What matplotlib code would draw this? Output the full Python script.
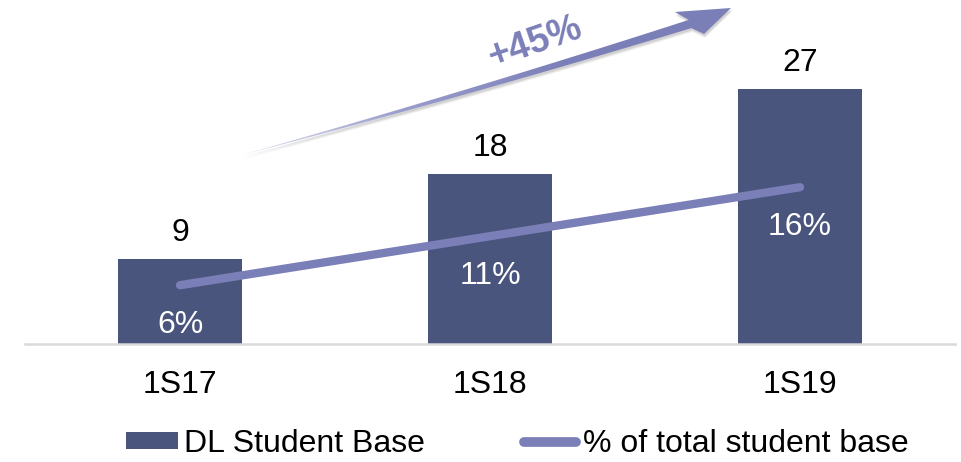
import numpy as np
import matplotlib
matplotlib.use("Agg")
from matplotlib import pyplot as plt
from matplotlib.patches import Polygon, Patch
from matplotlib.lines import Line2D
from matplotlib.colors import LinearSegmentedColormap

plt.rcParams['font.family'] = ['Liberation Sans', 'DejaVu Sans']

periods = ["1S17", "1S18", "1S19"]
students = [9, 18, 27]
share_pct = [6, 11, 16]
growth_label = "+45%"

bar_color = "#4a557e"
line_color = "#7b7fb8"
fs = 23

fig = plt.figure(figsize=(9.61, 4.62), dpi=100)
ax = fig.add_axes([25 / 961, (462 - 344) / 462, 930 / 961, 334 / 462])
ax2 = ax.twinx()

x = np.arange(len(periods))
ax.bar(x, students, width=0.4, color=bar_color, zorder=2)
ax.set_xlim(-0.5, 2.5)
ax.set_ylim(0, 334 / 9.45)
ax2.set_ylim(0, 334 / 9.8)

for xi, v in zip(x, students):
    ax.annotate(str(v), (xi, v), xytext=(0, 8), textcoords="offset points",
                ha="center", va="bottom", fontsize=fs, color="black")

ax2.plot(x, share_pct, color=line_color, lw=6, solid_capstyle="round", zorder=3)
for xi, p in zip(x, share_pct):
    ax2.annotate(f"{p}%", (xi, p), xytext=(0, -18), textcoords="offset points",
                 ha="center", va="top", fontsize=fs, color="white")

for a in (ax, ax2):
    for s in ("top", "right", "left"):
        a.spines[s].set_visible(False)
    a.set_yticks([])
ax.spines["bottom"].set_color("#d9d9d9")
ax.spines["bottom"].set_linewidth(1.8)
ax2.spines["bottom"].set_visible(False)
ax.set_xticks(x)
ax.set_xticklabels(periods, fontsize=fs)
ax.tick_params(axis="x", length=0, pad=19)

# growth arrow overlay (pixel space)
ov = fig.add_axes([0, 0, 1, 1], zorder=5)
ov.set_xlim(0, 961)
ov.set_ylim(462, 0)
ov.axis("off")

t = np.linspace(0, 1, 60)
p0, c, p1 = np.array([242, 155]), np.array([480, 90]), np.array([690, 24])
centre = ((1 - t) ** 2)[:, None] * p0 + (2 * (1 - t) * t)[:, None] * c + (t ** 2)[:, None] * p1
half = 4.3 * t ** 0.9
d = np.gradient(centre, axis=0)
nrm = np.stack([-d[:, 1], d[:, 0]], axis=1)
nrm /= np.linalg.norm(nrm, axis=1)[:, None]
upper = centre - nrm * half[:, None]
lower = centre + nrm * half[:, None]
head = np.array([[704, 34], [731, 8], [675, 12]])
pts = np.vstack([lower, head, upper[::-1]])

for k, al in ((3, 0.10), (2, 0.15), (1, 0.2)):
    ov.add_patch(Polygon(pts + np.array([1, k + 1]), closed=True, color="#8a8a8a",
                         alpha=al, lw=0))
arrow = Polygon(pts, closed=True, facecolor="none", edgecolor="none")
ov.add_patch(arrow)
grad = np.linspace(0, 1, 256)[None, :]
cmap = LinearSegmentedColormap.from_list("arr", ["#dcdeee", "#9a9dcb", line_color, line_color])
im = ov.imshow(grad, extent=(242, 731, 160, 5), cmap=cmap, aspect="auto", zorder=6)
im.set_clip_path(arrow)
ov.text(535, 43, growth_label, rotation=19, ha="center", va="center",
        fontsize=27, fontweight="bold", color=line_color, zorder=7)

handles = [Patch(facecolor=bar_color, label="DL Student Base"),
           Line2D([0], [0], color=line_color, lw=7, solid_capstyle="round",
                  label="% of total student base")]
fig.legend(handles=handles, loc="center", bbox_to_anchor=(517 / 961, 1 - 444 / 462), ncol=2,
           frameon=False, fontsize=fs, columnspacing=3.1, handlelength=1.63,
           handletextpad=0.2, handleheight=0.47, borderpad=0, borderaxespad=0)

fig.savefig("out.png", dpi=100)
